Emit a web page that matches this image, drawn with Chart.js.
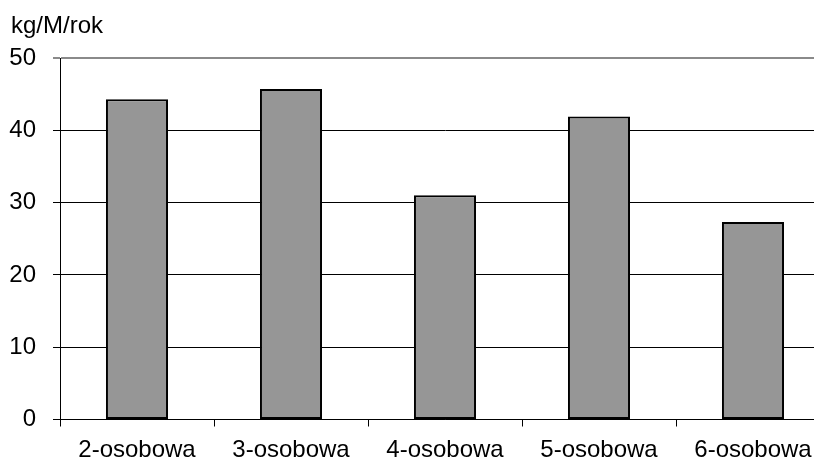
<!DOCTYPE html>
<html>
<head>
<meta charset="utf-8">
<script src="https://cdn.jsdelivr.net/npm/chart.js@4"></script>
<style>
  html, body { margin: 0; padding: 0; background: #fff; overflow: hidden; }
  #wrap { position: relative; width: 832px; height: 459px; }
</style>
</head>
<body>
<div id="wrap"><canvas id="c" width="832" height="459"></canvas></div>
<script>
// Household size categories and yearly amount per person
const categories = ['2-osobowa', '3-osobowa', '4-osobowa', '5-osobowa', '6-osobowa'];
const values = [44.3, 45.7, 31.0, 41.9, 27.3];
const unitLabel = 'kg/M/rok';
const yMin = 0, yMax = 50, yStep = 10;

const FONT = 'Liberation Sans, Arial, sans-serif';
const FONT_SIZE = 24;

// Unit caption above the value axis
const unitCaption = {
  id: 'unitCaption',
  afterDraw(chart) {
    const ctx = chart.ctx;
    ctx.save();
    ctx.font = FONT_SIZE + 'px ' + FONT;
    ctx.fillStyle = '#000';
    ctx.textAlign = 'left';
    ctx.textBaseline = 'alphabetic';
    ctx.fillText(unitLabel, 11, 33);
    ctx.restore();
  }
};

new Chart(document.getElementById('c'), {
  type: 'bar',
  data: {
    labels: categories,
    datasets: [{
      data: values,
      backgroundColor: '#969696',
      borderColor: '#000',
      borderWidth: 2,
      borderSkipped: false,
      categoryPercentage: 1,
      barPercentage: 0.403
    }]
  },
  options: {
    responsive: false,
    animation: false,
    layout: { padding: { top: 58, right: 2, left: 0, bottom: 0 } },
    plugins: { legend: { display: false }, tooltip: { enabled: false } },
    scales: {
      x: {
        offset: true,
        grid: {
          offset: true,
          drawOnChartArea: false,
          drawTicks: true,
          tickLength: 7,
          color: '#000',
          lineWidth: 1
        },
        border: { display: true, color: '#000', width: 1 },
        ticks: { color: '#000', font: { family: FONT, size: FONT_SIZE }, padding: 9, maxRotation: 0 },
        afterFit(scale) { scale.height = 39.5; }
      },
      y: {
        min: yMin,
        max: yMax,
        grid: {
          color: (c) => (c.tick && c.tick.value === yMax ? '#8a8a8a' : '#000'),
          lineWidth: (c) => (c.tick && c.tick.value === yMax ? 2 : 1),
          tickLength: 7,
          drawTicks: true
        },
        border: { display: true, color: '#000', width: 1 },
        ticks: { stepSize: yStep, color: '#000', font: { family: FONT, size: FONT_SIZE }, padding: 17 },
        afterFit(scale) { scale.width = 60; }
      }
    }
  },
  plugins: [unitCaption]
});
</script>
</body>
</html>
